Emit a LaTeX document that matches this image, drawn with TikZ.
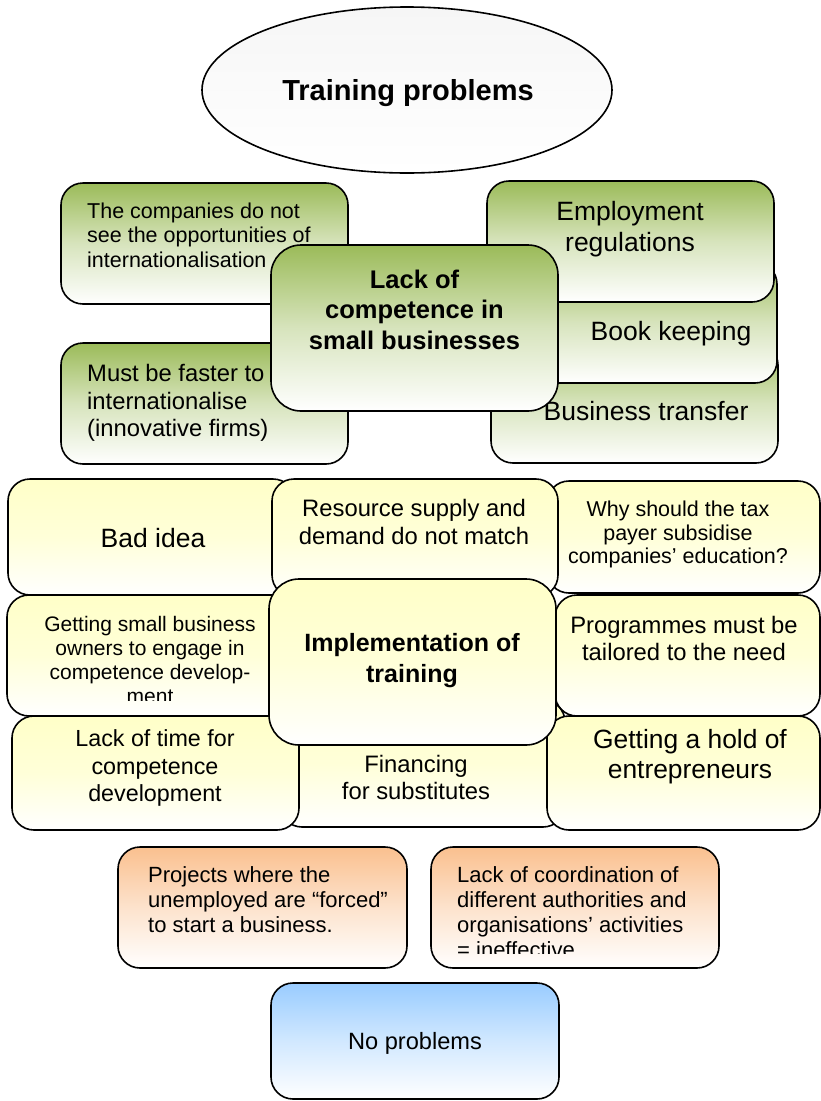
\documentclass[tikz,border=0pt]{standalone}
\usepackage{fontspec}
\setmainfont{Liberation Sans}
\usetikzlibrary{shadings}
\definecolor{leafgreen}{RGB}{155,187,89}
\definecolor{paleyellow}{RGB}{255,255,200}
\definecolor{peach}{RGB}{250,192,143}
\definecolor{skyblue}{RGB}{153,204,255}
\definecolor{mist}{RGB}{246,246,246}
\tikzset{
  box/.style={draw=black,line width=1.6pt,rounded corners=22pt},
  greenbox/.style={box,top color=leafgreen,bottom color=white,middle color=leafgreen!40!white},
  yellowbox/.style={box,top color=paleyellow,bottom color=white,middle color=paleyellow!70!white},
  orangebox/.style={box,top color=peach,bottom color=white,middle color=peach!45!white},
  bluebox/.style={box,top color=skyblue,bottom color=white,middle color=skyblue!45!white},
  % labels sit on the baseline of their last line
  lbl/.style={inner sep=0pt,align=center,anchor=base},
  hugetxt/.style={lbl,font=\bfseries\fontsize{29}{33}\selectfont},
  headtxt/.style={lbl,font=\bfseries\fontsize{25.5}{30.5}\selectfont},
  bigtxt/.style={lbl,font=\fontsize{26.5}{30.5}\selectfont},
  midtxt/.style={lbl,font=\fontsize{23.8}{27.5}\selectfont},
  smalltxt/.style={lbl,font=\fontsize{21.5}{24.5}\selectfont},
}
\begin{document}
\begin{tikzpicture}[x=1pt,y=-1pt]
  \fill[white] (0,0) rectangle (821,1101);
  \useasboundingbox (0,0) rectangle (821,1101);

  % title
  \draw[line width=1.6pt,top color=mist,bottom color=white] (407,90) ellipse (205 and 83);
  \node[hugetxt] (title) at (408,100) {Training problems};

  % competence group (green)
  \begin{scope}
    \draw[greenbox] (61,183) rectangle (348,304);
    \node[smalltxt,align=left,anchor=base west] (opport) at (87,267.3)
      {The companies do not\\see the opportunities of\\internationalisation};
    \draw[greenbox] (61,343) rectangle (348,464);
    \node[midtxt,align=left,anchor=base west] (faster) at (87,436.7)
      {Must be faster to\\internationalise\\(innovative firms)};
    \draw[greenbox] (491,343) rectangle (778,463);
    \node[bigtxt] (transfer) at (646,420) {Business transfer};
    \draw[greenbox] (489,262) rectangle (777,383);
    \node[bigtxt] (books) at (671,340) {Book keeping};
    \draw[greenbox] (487,181) rectangle (774,302);
    \node[bigtxt] (employ) at (630,251.2) {Employment\\regulations};
    \draw[greenbox,rounded corners=30pt] (271,245) rectangle (558,411);
    \node[headtxt] (competence) at (414.5,349.3) {Lack of\\competence in\\small businesses};
  \end{scope}

  % implementation group (yellow)
  \begin{scope}
    \draw[yellowbox] (8,479) rectangle (295,595);
    \node[bigtxt] (badidea) at (153,547.3) {Bad idea};
    \draw[yellowbox] (547,481) rectangle (820,593);
    \node[smalltxt,font=\fontsize{21.5}{23.5}\selectfont] (taxpayer) at (678,563.7)
      {Why should the tax\\payer subsidise\\companies’ education?};
    \draw[yellowbox] (272,479) rectangle (558,597);
    \node[midtxt] (supply) at (414,544.2) {Resource supply and\\demand do not match};
    \draw[yellowbox] (7,595) rectangle (295,716);
    \begin{scope}
      \clip (7,595) rectangle (295,700.5);
      \node[smalltxt,font=\fontsize{21}{24}\selectfont] (engage) at (150,703.7)
        {Getting small business\\owners to engage in\\competence develop-\\ment};
    \end{scope}
    \draw[yellowbox] (555,595) rectangle (820,716);
    \node[midtxt] (tailored) at (684,660.8) {Programmes must be\\tailored to the need};
    \draw[yellowbox] (280,700) rectangle (565,827);
    \node[midtxt,font=\fontsize{23.8}{26.3}\selectfont] (substitutes) at (416,799) {Financing\\for substitutes};
    \draw[yellowbox] (12,716) rectangle (299,830);
    \node[midtxt,font=\fontsize{23.3}{27.5}\selectfont] (notime) at (155,801.7) {Lack of time for\\competence\\development};
    \draw[yellowbox] (547,716) rectangle (820,830);
    \node[bigtxt,font=\fontsize{26.4}{30}\selectfont] (entrepr) at (690,778.3) {Getting a hold of\\entrepreneurs};
    \draw[yellowbox,rounded corners=30pt] (269,579) rectangle (556,745);
    \node[headtxt,font=\bfseries\fontsize{25}{31}\selectfont] (implement) at (412,682.7) {Implementation of\\training};
  \end{scope}

  % other problems (orange) and none (blue)
  \draw[orangebox] (118,847) rectangle (407,968);
  \node[smalltxt,font=\fontsize{22}{25}\selectfont,align=left,anchor=base west] (forced) at (148,932.7)
    {Projects where the\\unemployed are “forced”\\to start a business.};
  \draw[orangebox] (431,847) rectangle (719,968);
  \begin{scope}
    \clip (431,847) rectangle (719,953);
    \node[smalltxt,font=\fontsize{22}{25}\selectfont,align=left,anchor=base west] (coord) at (457,957.7)
      {Lack of coordination of\\different authorities and\\organisations’ activities\\= ineffective};
  \end{scope}
  \draw[bluebox] (271,983) rectangle (559,1099);
  \node[midtxt,font=\fontsize{23.6}{27}\selectfont] (none) at (415,1049.3) {No problems};
\end{tikzpicture}
\end{document}
